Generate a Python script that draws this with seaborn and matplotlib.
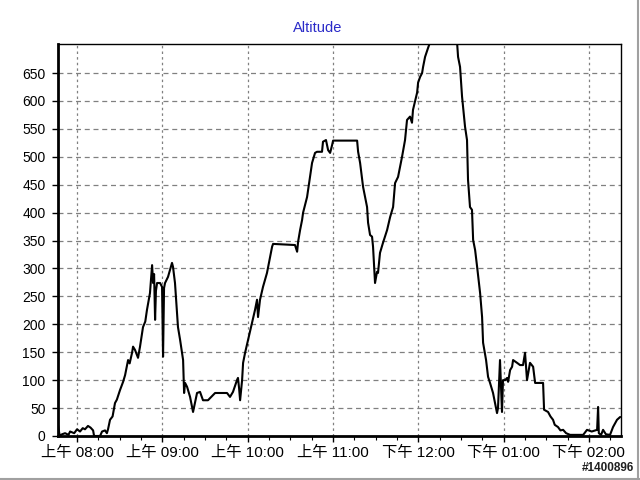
import pandas as pd
import matplotlib
matplotlib.use("Agg")
import matplotlib.pyplot as plt
import seaborn as sns
from matplotlib.ticker import MultipleLocator

# time axis: minutes after 08:00
minutes = [
    -13.4, -12.5, -12.0, -10.6, -8.4, -6.0, -4.9, -2.0, 0.0, 2.1, 4.0, 5.6, 7.7, 9.5, 11.3, 12.0,
    16.2, 17.6, 19.7, 21.0, 21.8, 23.2, 25.0, 26.7, 28.0, 30.2, 32.4, 33.8, 35.9, 37.0, 38.7, 39.4,
    40.8, 42.9, 44.3, 46.4, 48.0, 49.2, 51.3, 52.8, 53.5, 54.2, 54.9, 55.5, 56.3, 58.4, 59.8, 60.5,
    61.2, 61.9, 64.0, 66.8, 67.5, 68.9, 71.0, 72.5, 74.6, 75.3, 76.0, 77.4, 79.5, 81.6, 83.0, 84.4,
    86.5, 88.6, 90.0, 92.1, 97.1, 105.5, 107.6, 109.7, 112.5, 113.2, 114.0, 114.7, 116.1, 116.8,
    118.2, 120.3, 123.1, 125.2, 126.6, 127.3, 128.7, 130.8, 133.6, 135.8, 137.2, 137.9, 153.3,
    154.8, 155.5, 156.9, 158.3, 159.0, 161.8, 163.9, 165.3, 167.4, 168.8, 172.3, 173.0, 175.1,
    176.6, 178.0, 179.4, 180.1, 197.0, 197.7, 199.1, 201.2, 204.0, 204.7, 206.1, 207.5, 208.2,
    209.6, 211.0, 211.7, 213.1, 215.2, 218.1, 220.2, 222.3, 223.7, 225.8, 228.6, 230.7, 232.1,
    234.2, 235.6, 236.3, 239.2, 239.9, 241.3, 242.7, 243.4, 244.8, 246.9, 248.3, 253.2, 267.3,
    268.0, 269.4, 270.8, 271.5, 272.9, 274.3, 275.0, 276.4, 277.8, 278.6, 280.0, 281.4, 283.5,
    284.9, 285.6, 287.7, 289.1, 290.5, 292.6, 294.0, 295.4, 296.1, 297.5, 298.9, 299.6, 301.1,
    302.5, 303.2, 304.6, 306.0, 306.7, 309.5, 311.6, 313.7, 315.1, 316.5, 318.6, 320.8, 322.2,
    327.8, 328.5, 331.3, 333.0, 334.8, 336.0, 338.3, 340.0, 341.9, 344.0, 346.8, 356.0, 358.7,
    362.0, 365.8, 366.5, 367.0, 368.6, 370.0, 372.0, 374.9, 377.0, 379.8, 382.0,
]
altitude = [
    20, 5, 0, 3, 5, 2, 8, 5, 12, 8, 14, 12, 18, 15, 10, 0,
    0, 8, 10, 5, 12, 29, 35, 59, 65, 82, 97, 109, 136, 130, 149, 160,
    154, 140, 160, 195, 205, 226, 256, 306, 274, 290, 208, 260, 274, 274, 267, 142,
    265, 274, 285, 310, 303, 274, 195, 172, 136, 77, 95, 88, 70, 43, 60, 77,
    79, 64, 64, 64, 77, 77, 70, 79, 100, 104, 85, 64, 100, 131,
    149, 172, 202, 226, 244, 213, 244, 267, 292, 321, 339, 344, 342,
    330, 348, 369, 387, 400, 428, 464, 489, 507, 509, 509, 527, 530,
    512, 507, 521, 529, 529, 509, 489, 446, 410, 382, 360, 357, 339,
    274, 294, 292, 328, 346, 369, 392, 410, 453, 464, 500, 530, 566,
    572, 561, 584, 615, 633, 643, 650, 661, 679, 695, 705, 710, 705,
    679, 661, 608, 590, 554, 530, 459, 410, 405, 351, 333, 303, 256,
    213, 167, 136, 106, 95, 77, 59, 41, 50, 136, 43, 100, 100,
    104, 97, 118, 124, 136, 131, 127, 127, 149, 100, 131, 124, 95,
    95, 47, 43, 35, 29, 20, 16, 10, 11, 5, 2, 2, 11,
    8, 11, 52, 5, 2, 11, 3, 2, 16, 29, 34,
]

hour_ticks = [0, 60, 120, 180, 240, 300, 360]
hour_labels = ["上午 08:00", "上午 09:00", "上午 10:00", "上午 11:00",
               "下午 12:00", "下午 01:00", "下午 02:00"]
altitude_ticks = list(range(0, 700, 50))

sns.set_theme(style="white")
plt.rcParams["font.family"] = ["Liberation Sans", "Noto Sans CJK TC", "DejaVu Sans"]

fig = plt.figure(figsize=(6.4, 4.8), dpi=100)
ax = fig.add_axes([0.0906, 0.0917, 0.8797, 0.8166])

df = pd.DataFrame({"minutes": minutes, "altitude": altitude})
sns.lineplot(data=df, x="minutes", y="altitude", ax=ax, color="black",
             linewidth=1.5, estimator=None, sort=False)

ax.set_xlim(-13.4, 382.6)
ax.set_ylim(0, 702)
ax.set_xticks(hour_ticks)
ax.set_xticklabels(hour_labels)
ax.xaxis.set_minor_locator(MultipleLocator(15))
ax.set_yticks(altitude_ticks)
ax.set_xlabel("")
ax.set_ylabel("")

ax.set_axisbelow(True)
ax.grid(axis="y", color="#808080", linestyle=(0, (4, 3)), linewidth=0.9)
ax.grid(axis="x", color="#808080", linestyle=(0, (2, 2.5)), linewidth=0.9)

ax.tick_params(axis="x", which="major", bottom=True, length=4, width=1,
               pad=3, labelsize=11, colors="black")
ax.tick_params(axis="x", which="minor", bottom=True, length=3, width=0.8,
               colors="black")
ax.tick_params(axis="y", left=True, length=4, width=1, pad=5, labelsize=10,
               colors="black")

for side, lw in [("left", 2), ("bottom", 2), ("top", 1), ("right", 1)]:
    ax.spines[side].set_visible(True)
    ax.spines[side].set_color("black")
    ax.spines[side].set_linewidth(lw)

ax.set_title("Altitude", color="#2a2ac8", fontsize=10.5, pad=9, x=0.462)

fig.text(0.99, 0.012, "#1400896", ha="right", va="bottom",
         fontsize=8.5, fontweight="bold", color="#202020")

# thin grey frame on the right and bottom edge of the image
fig.add_artist(plt.Line2D([0.997, 0.997], [0, 1], transform=fig.transFigure,
                          color="#a0a0a0", linewidth=1.5))
fig.add_artist(plt.Line2D([0, 1], [0.003, 0.003], transform=fig.transFigure,
                          color="#a0a0a0", linewidth=1.5))

fig.savefig("out.png", dpi=100)
plt.close(fig)
